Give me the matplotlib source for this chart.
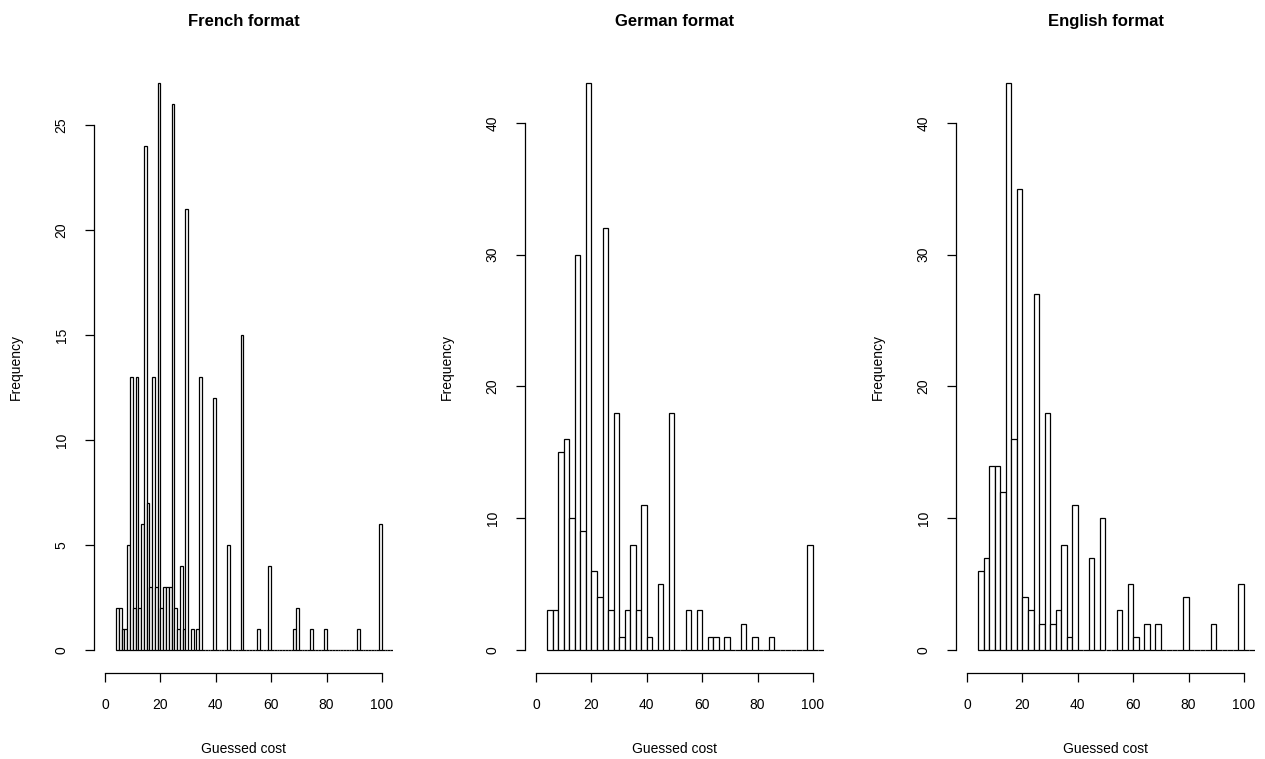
import matplotlib.pyplot as plt
import numpy as np

plt.rcParams['font.family'] = ['Liberation Sans', 'DejaVu Sans']

# French format: bins of width 1, given by right edge -> count
french_right = [5, 6, 7, 8, 9, 10, 11, 12, 13, 14, 15, 16, 17, 18, 19, 20, 21, 22, 23, 24,
                25, 26, 27, 28, 29, 30, 32, 34, 35, 40, 45, 50, 56, 60, 69, 70, 75, 80, 92, 100]
french_counts = [2, 2, 1, 1, 5, 13, 2, 13, 2, 6, 24, 7, 3, 13, 3, 27, 2, 3, 3, 3,
                 26, 2, 1, 4, 1, 21, 1, 1, 13, 12, 5, 15, 1, 4, 1, 2, 1, 1, 1, 6]

# German format: bins of width 2
german_right = [6, 8, 10, 12, 14, 16, 18, 20, 22, 24, 26, 28, 30, 32, 34, 36, 38, 40, 42,
                46, 50, 56, 60, 64, 66, 70, 76, 80, 86, 100]
german_counts = [3, 3, 15, 16, 10, 30, 9, 43, 6, 4, 32, 3, 18, 1, 3, 8, 3, 11, 1,
                 5, 18, 3, 3, 1, 1, 1, 2, 1, 1, 8]

# English format: bins of width 2
english_right = [6, 8, 10, 12, 14, 16, 18, 20, 22, 24, 26, 28, 30, 32, 34, 36, 38, 40,
                 46, 50, 56, 60, 62, 66, 70, 80, 90, 100]
english_counts = [6, 7, 14, 14, 12, 43, 16, 35, 4, 3, 27, 2, 18, 2, 3, 8, 1, 11,
                  7, 10, 3, 5, 1, 2, 2, 4, 2, 5]

panels = [
    ('French format', french_right, french_counts, 1, 25, 5),
    ('German format', german_right, german_counts, 2, 40, 10),
    ('English format', english_right, english_counts, 2, 40, 10),
]

fig = plt.figure(figsize=(12.65, 7.59), dpi=100)
lefts = [94, 525, 956]

for (title, right, counts, w, ytop, ystep), left in zip(panels, lefts):
    ax = fig.add_axes([left / 1265, 86.3 / 759, 299 / 1265, 612 / 759])
    edges = np.arange(4, 104 + w, w)
    full = np.zeros(len(edges) - 1)
    for r, c in zip(right, counts):
        full[list(edges[1:]).index(r)] = c
    ax.bar(edges[:-1], full, width=w, align='edge', color='white',
           edgecolor='black', linewidth=0.9)

    ymax = max(counts)
    ax.set_xlim(-4, 104)
    ax.set_ylim(-0.04 * ymax, 1.04 * ymax)
    ax.set_xticks(np.arange(0, 101, 20))
    ax.set_yticks(np.arange(0, ytop + 1, ystep))
    for s in ['top', 'right']:
        ax.spines[s].set_visible(False)
    ax.spines['bottom'].set_bounds(0, 100)
    ax.spines['left'].set_bounds(0, ytop)
    ax.spines['bottom'].set_linewidth(0.9)
    ax.spines['left'].set_linewidth(0.9)
    ax.tick_params(direction='out', length=6.2, width=0.9, pad=12, labelsize=10)
    ax.tick_params(axis='y', labelrotation=90)
    plt.setp(ax.get_yticklabels(), va='center')

    ax.set_title(title, fontsize=12, fontweight='bold', pad=25)
    ax.set_xlabel('Guessed cost', fontsize=10)
    ax.set_ylabel('Frequency', fontsize=10)
    ax.xaxis.set_label_coords(0.5, -0.113)
    ax.yaxis.set_label_coords(-0.237, 0.5)

fig.savefig('out.png', dpi=100)
